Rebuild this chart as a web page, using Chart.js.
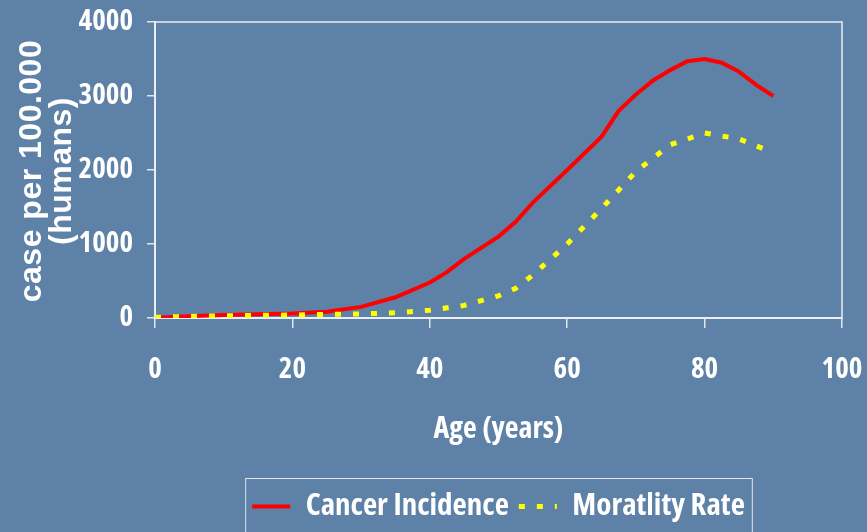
<!DOCTYPE html>
<html>
<head>
<meta charset="utf-8">
<script src="https://cdn.jsdelivr.net/npm/chart.js@4"></script>
<style>
  html, body { margin: 0; padding: 0; background: #5e81a7; }
  #wrap { width: 867px; height: 532px; position: relative; }
</style>
</head>
<body>
<div id="wrap"><canvas id="cancerChart"></canvas></div>
<script>
// Ages (years) and rates per 100.000
const incidenceAges = [0, 5, 10, 15, 20, 25, 30, 35, 40, 42.5, 45, 50, 52.5, 55, 60, 65, 67.5, 70, 72.5, 75, 77.5, 80, 82.5, 85, 87.5, 90];
const incidenceValues = [5, 25, 40, 50, 60, 85, 150, 280, 480, 620, 800, 1100, 1300, 1560, 2000, 2450, 2800, 3020, 3210, 3350, 3470, 3500, 3450, 3330, 3150, 3000];

const mortalityAges = [0, 5, 10, 15, 20, 25, 30, 35, 40, 45, 50, 52.5, 55, 60, 65, 70, 75, 80, 85, 89];
const mortalityValues = [10, 20, 30, 35, 40, 50, 55, 70, 105, 170, 300, 400, 580, 1000, 1480, 1980, 2340, 2500, 2420, 2270];

const xTicks = [0, 20, 40, 60, 80, 100];
const yTicks = [0, 1000, 2000, 3000, 4000];

const seriesNames = ["Cancer Incidence", "Moratlity Rate"];
const yTitleLines = ["case per 100.000", "(humans)"];
const xTitle = "Age (years)";

// condensed cut of the variable Open Sans
const narrowFont = (size) => ({ family: "'Open Sans', sans-serif", size: size, weight: "bold condensed" });

const toPoints = (xs, ys) => xs.map((x, i) => ({ x: x, y: ys[i] }));

// frame round the plot area, rotated y title, and box round the legend
const decorPlugin = {
  id: "decor",
  beforeDatasetsDraw(chart) {
    const { ctx, chartArea } = chart;
    ctx.save();
    ctx.strokeStyle = "#e8eef5";
    ctx.lineWidth = 1.5;
    ctx.strokeRect(chartArea.left, chartArea.top, chartArea.right - chartArea.left, chartArea.bottom - chartArea.top);
    ctx.restore();
  },
  afterDraw(chart) {
    const { ctx } = chart;
    ctx.save();
    ctx.fillStyle = "#ffffff";
    ctx.font = "bold 32px 'Liberation Sans', Arial, sans-serif";
    ctx.letterSpacing = "0.5px";
    ctx.textAlign = "center";
    ctx.textBaseline = "alphabetic";
    ctx.translate(0, 171);
    ctx.rotate(-Math.PI / 2);
    ctx.fillText(yTitleLines[0], 0, 41);
    ctx.fillText(yTitleLines[1], 0, 71);
    ctx.restore();

    const boxes = chart.legend.legendHitBoxes;
    if (boxes && boxes.length) {
      const left = Math.min(...boxes.map(b => b.left)) - 7;
      const right = Math.max(...boxes.map(b => b.left + b.width)) + 7;
      const top = Math.min(...boxes.map(b => b.top)) - 13;
      const bottom = Math.max(...boxes.map(b => b.top + b.height)) + 14;
      ctx.save();
      ctx.strokeStyle = "#dfe6ee";
      ctx.lineWidth = 1;
      ctx.strokeRect(left + 0.5, top + 0.5, right - left, bottom - top);
      ctx.restore();
    }
  }
};

const ctx = document.getElementById("cancerChart").getContext("2d");

new Chart(ctx, {
  type: "line",
  data: {
    datasets: [
      {
        label: seriesNames[0],
        data: toPoints(incidenceAges, incidenceValues),
        borderColor: "#ff0000",
        backgroundColor: "#ff0000",
        borderWidth: 4,
        pointRadius: 0,
        tension: 0,
        fill: false,
        order: 1,
      },
      {
        label: seriesNames[1],
        data: toPoints(mortalityAges, mortalityValues),
        borderColor: "#ffff00",
        backgroundColor: "#ffff00",
        borderWidth: 5,
        borderDash: [6, 12],
        pointRadius: 0,
        tension: 0,
        fill: false,
        order: 0,
      },
    ],
  },
  options: {
    responsive: true,
    maintainAspectRatio: false,
    animation: false,
    layout: {
      padding: { left: 0, right: 25, top: 22, bottom: 0 },
    },
    plugins: {
      legend: {
        position: "bottom",
        fullSize: false,
        labels: {
          color: "#ffffff",
          font: narrowFont(31),
          usePointStyle: true,
          pointStyle: "line",
          pointStyleWidth: 38,
          boxHeight: 31,
          padding: 10,
          sort: (a, b) => a.datasetIndex - b.datasetIndex,
          generateLabels: (chart) => {
            const items = Chart.defaults.plugins.legend.labels.generateLabels(chart);
            items.forEach((item) => {
              const ds = chart.data.datasets[item.datasetIndex];
              item.lineDash = ds.borderDash || [];
              item.lineWidth = ds.borderWidth;
              item.strokeStyle = ds.borderColor;
            });
            return items;
          },
        },
      },
      tooltip: { enabled: false },
    },
    scales: {
      x: {
        type: "linear",
        min: 0,
        max: 100,
        afterBuildTicks: (scale) => {
          scale.ticks = xTicks.map(v => ({ value: v }));
        },
        afterFit: (scale) => {
          scale.height = 163;
          scale.paddingLeft = 0;
          scale.paddingRight = 0;
        },
        grid: {
          display: true,
          drawOnChartArea: false,
          drawTicks: true,
          tickLength: 10,
          color: "#dfe6ee",
          lineWidth: 1.5,
        },
        border: { display: true, color: "#eef2f7", width: 2 },
        ticks: {
          color: "#ffffff",
          font: narrowFont(29),
          padding: 24,
          maxRotation: 0,
          callback: (v) => String(v),
        },
        title: {
          display: true,
          text: xTitle,
          color: "#ffffff",
          font: narrowFont(30),
          padding: { top: 0, bottom: 34 },
        },
      },
      y: {
        type: "linear",
        min: 0,
        max: 4000,
        afterBuildTicks: (scale) => {
          scale.ticks = yTicks.map(v => ({ value: v }));
        },
        afterFit: (scale) => {
          scale.width = 155;
          scale.paddingTop = 0;
          scale.paddingBottom = 0;
        },
        grid: {
          display: true,
          drawOnChartArea: false,
          drawTicks: true,
          tickLength: 8,
          color: "#dfe6ee",
          lineWidth: 1.5,
        },
        border: { display: true, color: "#eef2f7", width: 2 },
        ticks: {
          color: "#ffffff",
          font: narrowFont(29),
          padding: 14,
          callback: (v) => String(v),
        },
      },
    },
  },
  plugins: [decorPlugin],
});
</script>
</body>
</html>
